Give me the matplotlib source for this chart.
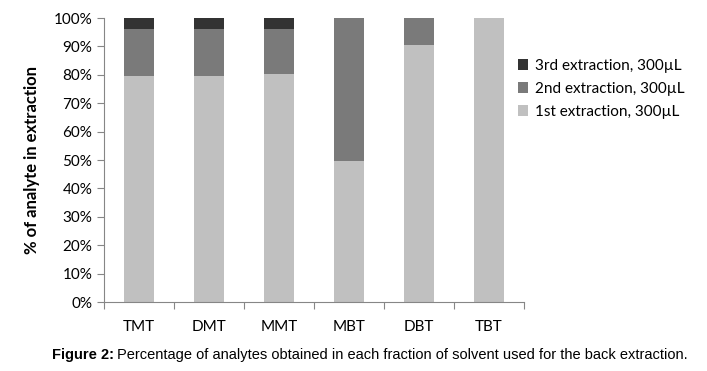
import matplotlib
matplotlib.use("Agg")
import matplotlib.pyplot as plt
from matplotlib.ticker import PercentFormatter

categories = ["TMT", "DMT", "MMT", "MBT", "DBT", "TBT"]
first = [79.5, 79.5, 80.3, 49.5, 90.5, 100.0]
second = [16.5, 16.5, 15.7, 50.5, 9.5, 0.0]
third = [4.0, 4.0, 4.0, 0.0, 0.0, 0.0]
yticks = list(range(0, 101, 10))

W, H = 707, 371
fig = plt.figure(figsize=(W / 100, H / 100), dpi=100)
ax = fig.add_axes([104 / W, 1 - 302 / H, (524 - 104) / W, (302 - 18) / H])

font = "Lato"
x = range(len(categories))
bw = 0.42
ax.bar(x, first, bw, color="#c0c0c0", label="1st extraction, 300µL")
ax.bar(x, second, bw, bottom=first, color="#7a7a7a", label="2nd extraction, 300µL")
b2 = [a + b for a, b in zip(first, second)]
ax.bar(x, third, bw, bottom=b2, color="#333333", label="3rd extraction, 300µL")

ax.set_xlim(-0.5, len(categories) - 0.5)
ax.set_ylim(0, 100)
ax.set_yticks(yticks)
ax.yaxis.set_major_formatter(PercentFormatter(decimals=0))
ax.set_xticks([i - 0.5 for i in range(len(categories) + 1)], minor=False)
ax.set_xticklabels([])
ax.set_xticks(list(x), minor=True)
ax.set_xticklabels(categories, minor=True)
ax.tick_params(axis="x", which="major", length=5, color="#868686", direction="out")
ax.tick_params(axis="x", which="minor", length=0, pad=13, labelsize=11)
ax.tick_params(axis="y", length=5, color="#868686", labelsize=11)
for lab in ax.get_xticklabels(minor=True) + ax.get_yticklabels():
    lab.set_fontfamily(font)
for s in ["top", "right"]:
    ax.spines[s].set_visible(False)
for s in ["left", "bottom"]:
    ax.spines[s].set_color("#868686")

ax.set_ylabel("% of analyte in extraction", fontsize=12, fontweight="bold", fontfamily=font, labelpad=10)

handles, labels = ax.get_legend_handles_labels()
leg = fig.legend(handles[::-1], labels[::-1], loc="upper left", bbox_to_anchor=(504 / W, 1 - 45 / H),
                 frameon=False, prop={"family": font, "size": 11}, handlelength=0.7, handleheight=0.7,
                 handletextpad=0.4, labelspacing=0.6)

cap_y = 1 - 355 / H
t1 = fig.text(52 / W, cap_y, "Figure 2:", ha="left", va="center", fontsize=10.5,
              fontweight="bold", fontfamily="Liberation Sans")
fig.canvas.draw()
bb = t1.get_window_extent(renderer=fig.canvas.get_renderer())
x2 = (bb.x1 + 3) / W
fig.text(x2, cap_y, "Percentage of analytes obtained in each fraction of solvent used for the back extraction.",
         ha="left", va="center", fontsize=10.5, fontfamily="Liberation Sans")

fig.savefig("out.png", dpi=100)
